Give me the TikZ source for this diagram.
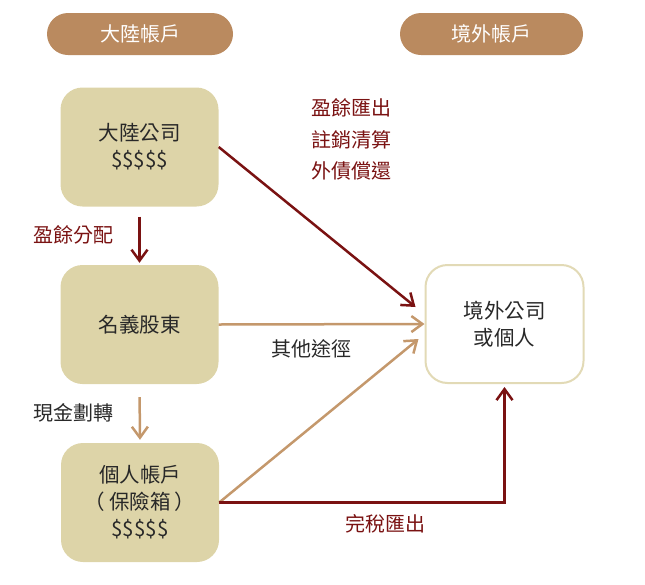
\documentclass[tikz,border=0pt]{standalone}
\usepackage{fontspec}
\setmainfont{Noto Sans CJK TC}
\usepackage{tikz}
\usetikzlibrary{arrows.meta,positioning,calc}
\usepackage{xcolor}
\definecolor{pillbrown}{RGB}{186,138,95}
\definecolor{boxbeige}{RGB}{221,212,168}
\definecolor{destline}{RGB}{226,218,182}
\definecolor{darkred}{RGB}{122,18,18}
\definecolor{tanline}{RGB}{196,152,108}
\definecolor{inkgray}{RGB}{40,40,40}

\begin{document}
\begin{tikzpicture}[x=1pt,y=-1pt,
    pill/.style={fill=pillbrown, rounded corners=21pt, minimum height=42pt, text=white, font=\fontsize{20}{24}\selectfont},
    acct/.style={fill=boxbeige, rounded corners=22pt, minimum width=158pt, minimum height=119pt, align=center, text=inkgray, font=\fontsize{20.5}{27}\selectfont},
    dest/.style={draw=destline, line width=2pt, fill=white, rounded corners=22pt, minimum width=158pt, minimum height=118pt, align=center, text=inkgray, font=\fontsize{20.5}{27}\selectfont},
    redarr/.style={draw=darkred, line width=2.5pt, -{Straight Barb[length=11pt,width=16pt,line width=2.5pt]}},
    tanarr/.style={draw=tanline, line width=2.5pt, -{Straight Barb[length=11pt,width=16pt,line width=2.5pt]}},
    redlabel/.style={text=darkred, font=\fontsize{20}{24}\selectfont},
    graylabel/.style={text=inkgray, font=\fontsize{20}{24}\selectfont}]
            \useasboundingbox (0,0) rectangle (645,584);

            % Headers
            \node[pill, minimum width=186pt] (hcn) at (140,34) {大陸帳戶};
            \node[pill, minimum width=183pt] (hos) at (491.5,34) {境外帳戶};

            % Mainland side
            \node[acct] (corp) at (139.5,147) {大陸公司\\\$\$\$\$\$};
            \node[acct] (nominee) at (139.5,324.5) {名義股東};
            \node[acct] (personal) at (140,502.5) {個人帳戶\\（\hspace{4pt}保險箱\hspace{4pt}）\\\$\$\$\$\$};

            % Offshore side
            \node[dest] (offshore) at (504.5,324) {境外公司\\或個人};

            % Arrows
            \draw[redarr, shorten <=10pt, shorten >=2pt] (corp.south) -- (nominee.north);
            \draw[tanarr, shorten <=13pt, shorten >=3pt] (nominee.south) -- (personal.north);
            \draw[redarr] (corp.east) -- ([xshift=-9pt,yshift=17pt]offshore.west);
            \draw[tanarr] (nominee.east) -- (offshore.west);
            \draw[tanarr] (personal.east) -- ([xshift=-6pt,yshift=-15pt]offshore.west);
            \draw[redarr] (personal.east) -| ([yshift=-3pt]offshore.south);

            % Labels
            \node[redlabel] (lblout) at (351.5,108) {盈餘匯出};
            \node[redlabel] (lblclose) at (351.5,140) {註銷清算};
            \node[redlabel] (lbldebt) at (351.5,171) {外債償還};
            \node[redlabel] (lbldist) at (73,235) {盈餘分配};
            \node[graylabel] (lblcash) at (73,413) {現金劃轉};
            \node[graylabel] (lblother) at (311,349) {其他途徑};
            \node[redlabel] (lbltax) at (385.5,524) {完稅匯出};
        \end{tikzpicture}
\end{document}
